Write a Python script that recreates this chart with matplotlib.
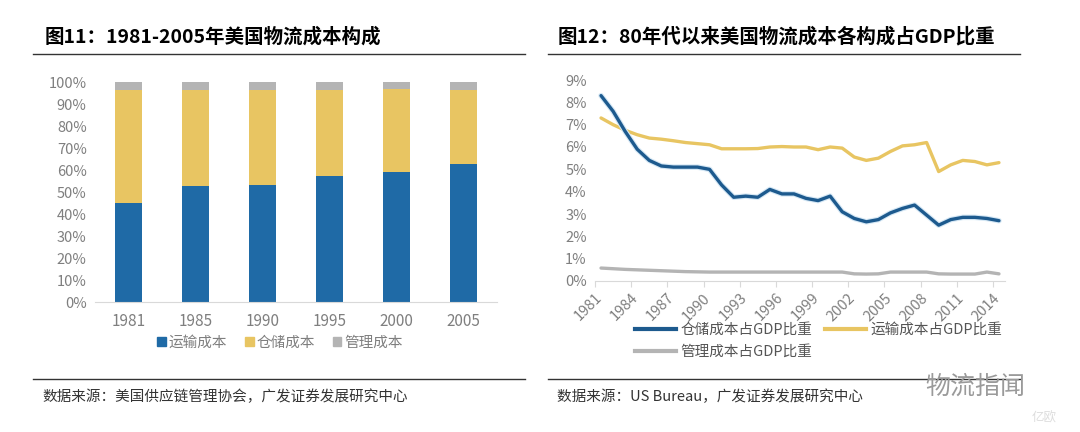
import numpy as np
import matplotlib
matplotlib.use("Agg")
import matplotlib.pyplot as plt
import matplotlib.patheffects as pe
from matplotlib.lines import Line2D
from matplotlib.patches import Patch

plt.rcParams['font.family'] = ['Noto Sans CJK SC', 'DejaVu Sans']

# ---- left chart data: cost composition (share of total, %)
bar_years = ['1981', '1985', '1990', '1995', '2000', '2005']
transport_share = [45.0, 52.6, 53.3, 57.1, 59.1, 62.7]
warehouse_share = [51.5, 43.9, 43.2, 39.4, 37.6, 33.8]
admin_share = [3.5, 3.5, 3.5, 3.5, 3.3, 3.5]

# ---- right chart data: share of GDP (%), 1981-2014
line_years = list(range(1981, 2015))
warehouse_gdp = [8.3, 7.6, 6.7, 5.9, 5.4, 5.15, 5.1, 5.1, 5.1, 5.0,
                 4.3, 3.75, 3.8, 3.75, 4.1, 3.9, 3.9, 3.7, 3.6, 3.8,
                 3.1, 2.8, 2.65, 2.75, 3.05, 3.25, 3.4, 2.95, 2.5, 2.75,
                 2.85, 2.85, 2.8, 2.7]
transport_gdp = [7.3, 7.0, 6.75, 6.55, 6.4, 6.35, 6.28, 6.2, 6.15, 6.1,
                 5.92, 5.92, 5.92, 5.93, 6.0, 6.02, 6.0, 6.0, 5.88, 6.0,
                 5.95, 5.55, 5.4, 5.5, 5.8, 6.05, 6.1, 6.2, 4.9, 5.2,
                 5.4, 5.35, 5.2, 5.3]
admin_gdp = [0.58, 0.55, 0.52, 0.5, 0.48, 0.46, 0.44, 0.42, 0.41, 0.4,
             0.4, 0.4, 0.4, 0.4, 0.4, 0.4, 0.4, 0.4, 0.4, 0.4,
             0.4, 0.32, 0.31, 0.32, 0.4, 0.4, 0.4, 0.4, 0.32, 0.31,
             0.31, 0.31, 0.4, 0.32]

blue = '#1f6aa6'
yellow = '#e8c562'
grey = '#b4b4b4'
tick_col = '#7f7f7f'

W, H = 1080, 432
fig = plt.figure(figsize=(W / 100, H / 100), dpi=100)

def box(x0, y_top, x1, y_bot):
    # pixel box -> figure fraction
    return [x0 / W, 1 - y_bot / H, (x1 - x0) / W, (y_bot - y_top) / H]

# ---------------- left: stacked bars
ax1 = fig.add_axes(box(95, 82, 497, 302))
xpos = np.arange(len(bar_years))
ax1.bar(xpos, transport_share, width=0.4, color=blue)
ax1.bar(xpos, warehouse_share, width=0.4, bottom=transport_share, color=yellow)
bottom2 = np.array(transport_share) + np.array(warehouse_share)
ax1.bar(xpos, admin_share, width=0.4, bottom=bottom2, color=grey)
ax1.set_xlim(-0.5, len(bar_years) - 0.5)
ax1.set_ylim(0, 100)
ax1.set_yticks(range(0, 101, 10))
ax1.set_yticklabels([f'{v}%' for v in range(0, 101, 10)])
ax1.set_xticks(xpos)
ax1.set_xticklabels(bar_years)
ax1.tick_params(axis='both', length=0, colors=tick_col, labelsize=10.5)
ax1.tick_params(axis='x', pad=8, labelsize=11)
ax1.tick_params(axis='y', pad=6)
for s in ['top', 'right', 'left']:
    ax1.spines[s].set_visible(False)
ax1.spines['bottom'].set_color('#d9d9d9')

h1 = [Patch(color=blue), Patch(color=yellow), Patch(color=grey)]
ax1.legend(h1, ['运输成本', '仓储成本', '管理成本'], loc='center',
           bbox_to_anchor=(0.46, -0.185), ncol=3, frameon=False,
           handlelength=0.6, handleheight=0.6, handletextpad=0.2,
           columnspacing=1.2, fontsize=10.5, labelcolor=tick_col)

# ---------------- right: lines
ax2 = fig.add_axes(box(595, 80, 1005, 281))
xl = np.arange(len(line_years)) + 0.5
ax2.plot(xl, transport_gdp, color=yellow, lw=2.4, solid_capstyle='round',
         solid_joinstyle='round')
ax2.plot(xl, warehouse_gdp, color='#1d5a8e', lw=2.4, solid_capstyle='round',
         solid_joinstyle='round',
         path_effects=[pe.Stroke(linewidth=4, foreground='#d6e8f5'), pe.Normal()])
ax2.plot(xl, admin_gdp, color=grey, lw=2.4, solid_capstyle='round')
ax2.set_xlim(0, len(line_years))
ax2.set_ylim(0, 9)
ax2.set_yticks(range(0, 10))
ax2.set_yticklabels([f'{v}%' for v in range(0, 10)])
ax2.set_xticks(np.arange(0, len(line_years), 3))
ax2.set_xticklabels([str(y) for y in line_years[::3]], rotation=45,
                    ha='right', rotation_mode='anchor')
ax2.tick_params(axis='y', length=0, colors=tick_col, labelsize=10.5, pad=6)
ax2.tick_params(axis='x', length=4, color='#d9d9d9', labelcolor=tick_col,
                labelsize=10.5, pad=3)
for s in ['top', 'right', 'left']:
    ax2.spines[s].set_visible(False)
ax2.spines['bottom'].set_color('#d9d9d9')

h2 = [Line2D([], [], color='#1d5a8e', lw=3),
      Line2D([], [], color=grey, lw=3),
      Line2D([], [], color=yellow, lw=3)]
fig.legend(h2, ['仓储成本占GDP比重', '管理成本占GDP比重', '运输成本占GDP比重'],
           loc='upper left', bbox_to_anchor=(622 / W, 1 - 310 / H), ncol=2,
           frameon=False, handlelength=2.8, handletextpad=0.3,
           columnspacing=0.9, labelspacing=0.55, fontsize=10.5,
           labelcolor='#555555')

# ---------------- titles, rules, sources
fig.text(45 / W, 1 - 37 / H, '图11：1981-2005年美国物流成本构成',
         fontsize=14, fontweight='bold', va='center', ha='left')
fig.text(558 / W, 1 - 37 / H, '图12：80年代以来美国物流成本各构成占GDP比重',
         fontsize=14, fontweight='bold', va='center', ha='left')
for x0, x1 in [(33, 525), (548, 1020)]:
    fig.add_artist(Line2D([x0 / W, x1 / W], [1 - 54 / H] * 2, color='#333333', lw=1))
    fig.add_artist(Line2D([x0 / W, x1 / W], [1 - 379 / H] * 2, color='#333333', lw=1))

fig.text(42 / W, 1 - 397 / H, '数据来源：美国供应链管理协会，广发证券发展研究中心',
         fontsize=10.5, va='center', ha='left', color='#333333')
fig.text(557 / W, 1 - 397 / H, '数据来源：US Bureau，广发证券发展研究中心',
         fontsize=10.5, va='center', ha='left', color='#333333')
fig.text(925 / W, 1 - 387 / H, '物流指闻', fontsize=18, color='#9a9a9a',
         va='center', ha='left', fontweight='light')
fig.text(1032 / W, 1 - 418 / H, '亿欧', fontsize=9, color='#dddddd',
         va='center', ha='left')

fig.savefig('out.png', dpi=100, facecolor='white')
